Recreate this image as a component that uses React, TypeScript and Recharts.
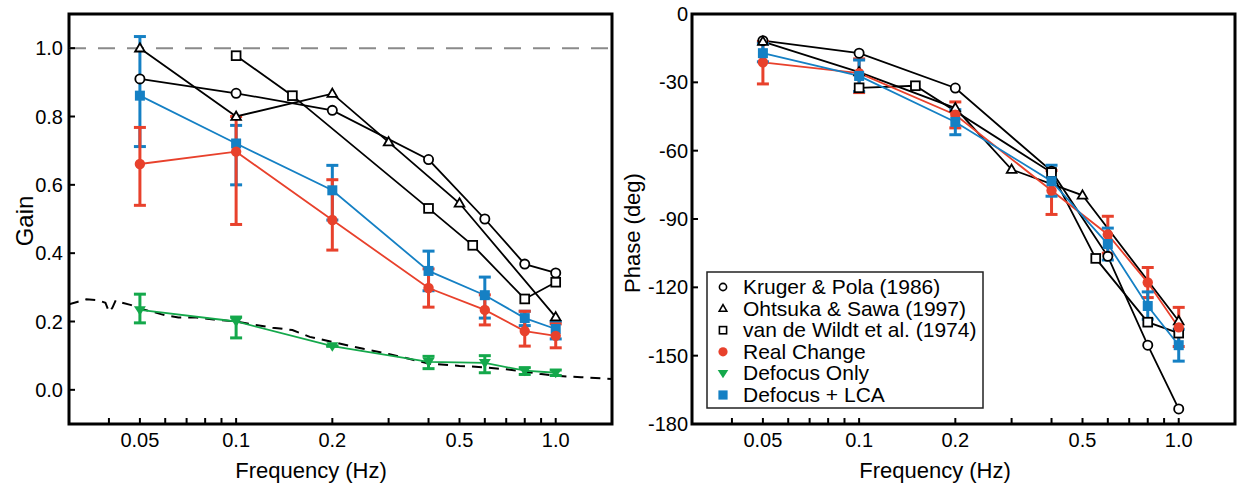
import React from 'react';
import { LineChart, Line, XAxis, YAxis, ErrorBar, ReferenceLine, ReferenceArea } from 'recharts';

const FONT = '"Liberation Sans", Arial, Helvetica, sans-serif';
const RED = '#E8412C';
const BLUE = '#1580C4';
const GREEN = '#14A84B';

// ---------- frequencies (Hz) ----------
const studyFreq = [0.05, 0.1, 0.2, 0.4, 0.6, 0.8, 1.0];
const krugerFreq = [0.05, 0.1, 0.2, 0.4, 0.6, 0.8, 1.0];
const ohtsukaFreq = [0.05, 0.1, 0.2, 0.3, 0.5, 1.0];
const wildtFreq = [0.1, 0.15, 0.4, 0.55, 0.8, 1.0];

// ---------- gain ----------
const krugerGain = [0.91, 0.868, 0.818, 0.674, 0.5, 0.368, 0.342];
const ohtsukaGain = [1.0, 0.8, 0.867, 0.725, 0.546, 0.213];
const wildtGain = [0.978, 0.861, 0.531, 0.423, 0.266, 0.315];

const realGain = [0.661, 0.697, 0.497, 0.298, 0.234, 0.172, 0.158];
const realGainLo = [0.54, 0.484, 0.409, 0.242, 0.19, 0.128, 0.123];
const realGainHi = [0.768, 0.8, 0.615, 0.354, 0.278, 0.23, 0.193];

const lcaGain = [0.861, 0.721, 0.584, 0.348, 0.277, 0.21, 0.178];
const lcaGainLo = [0.712, 0.6, 0.497, 0.29, 0.21, 0.188, 0.149];
const lcaGainHi = [1.034, 0.774, 0.657, 0.406, 0.33, 0.23, 0.2];

const defocusGain = [0.234, 0.2, 0.128, 0.082, 0.079, 0.056, 0.05];
const defocusGainLo = [0.196, 0.152, 0.128, 0.062, 0.05, 0.045, 0.042];
const defocusGainHi = [0.28, 0.213, 0.128, 0.098, 0.1, 0.065, 0.058];

// model (dashed) curve
const modelFreq = [0.03, 0.032, 0.034, 0.037, 0.039, 0.04, 0.041, 0.042, 0.044, 0.047, 0.05, 0.055, 0.06, 0.066, 0.075, 0.085, 0.1, 0.115, 0.13, 0.15, 0.17, 0.2, 0.25, 0.3, 0.35, 0.4, 0.5, 0.6, 0.7, 0.8, 0.9, 1.0, 1.2, 1.5];
const modelGain = [0.25, 0.258, 0.265, 0.262, 0.255, 0.228, 0.24, 0.262, 0.255, 0.248, 0.238, 0.228, 0.218, 0.212, 0.212, 0.206, 0.2, 0.19, 0.182, 0.175, 0.155, 0.14, 0.12, 0.105, 0.09, 0.077, 0.07, 0.066, 0.06, 0.053, 0.046, 0.041, 0.037, 0.032];

// ---------- phase (deg) ----------
const krugerPhase = [-11.7, -17.2, -32.5, -69, -106.4, -145.4, -173.4];
const ohtsukaPhase = [-12.1, -25.5, -41.3, -68.3, -79.6, -134.8];
const wildtPhase = [-32.4, -31.5, -69.6, -107.3, -135.3, -140.1];

const realPhase = [-21.2, -26, -44.2, -77.5, -96.8, -117.9, -137.6];
const realPhaseLo = [-30.7, -34.5, -50, -88, -105, -124.5, -146];
const realPhaseHi = [-12, -19.7, -38.6, -68.7, -88.8, -111.3, -128.8];

const lcaPhase = [-17.2, -27.2, -47.4, -73.4, -101, -128.2, -145.4];
const lcaPhaseLo = [-21, -34, -53, -80, -108, -134, -152.4];
const lcaPhaseHi = [-13, -20.2, -42, -66.4, -94, -122, -138.4];

// ---------- axes ----------
const freqTicks = [0.04, 0.05, 0.06, 0.07, 0.08, 0.09, 0.1, 0.2, 0.3, 0.4, 0.5, 0.6, 0.7, 0.8, 0.9, 1.0];
const freqLabels: Record<string, string> = { '0.05': '0.05', '0.1': '0.1', '0.2': '0.2', '0.5': '0.5', '1': '1.0' };
const gainTicks = [0, 0.2, 0.4, 0.6, 0.8, 1.0];
const phaseTicks = [-180, -150, -120, -90, -60, -30, 0];
const freqDomain = [0.03, 1.5];
const gainDomain = [-0.1, 1.1];
const phaseDomain = [-180, 0];

const legendItems = [
  { label: 'Kruger & Pola (1986)', kind: 'circle', color: '#000', open: true },
  { label: 'Ohtsuka & Sawa (1997)', kind: 'tri', color: '#000', open: true },
  { label: 'van de Wildt et al. (1974)', kind: 'square', color: '#000', open: true },
  { label: 'Real Change', kind: 'circle', color: RED, open: false },
  { label: 'Defocus Only', kind: 'down', color: GREEN, open: false },
  { label: 'Defocus + LCA', kind: 'square', color: BLUE, open: false },
];

const toPts = (fs: number[], vs: number[]) => fs.map((f, i) => ({ f, v: vs[i] }));
const toErrPts = (fs: number[], vs: number[], lo: number[], hi: number[]) =>
  fs.map((f, i) => ({ f, v: vs[i], err: [vs[i] - lo[i], hi[i] - vs[i]] }));

function shape(kind: string, cx: number, cy: number, s: number, fill: string, stroke: string, sw: number, key?: string) {
  if (kind === 'circle') return <circle key={key} cx={cx} cy={cy} r={s} fill={fill} stroke={stroke} strokeWidth={sw} />;
  if (kind === 'square')
    return <rect key={key} x={cx - s} y={cy - s} width={2 * s} height={2 * s} fill={fill} stroke={stroke} strokeWidth={sw} />;
  if (kind === 'tri') {
    const h = s * 1.8;
    return (
      <path key={key} d={`M${cx},${cy - h * 0.6} L${cx + s * 1.05},${cy + h * 0.4} L${cx - s * 1.05},${cy + h * 0.4} Z`} fill={fill} stroke={stroke} strokeWidth={sw} />
    );
  }
  const h = s * 1.8;
  return <path key={key} d={`M${cx},${cy + h * 0.6} L${cx + s * 1.15},${cy - h * 0.4} L${cx - s * 1.15},${cy - h * 0.4} Z`} fill={fill} stroke={stroke} strokeWidth={sw} />;
}

const makeDot = (kind: string, s: number, fill: string, stroke: string, sw: number) => (p: any) => {
  const k = `d-${p.index}`;
  if (p.cx == null || p.cy == null) return <g key={k} />;
  return shape(kind, p.cx, p.cy, s, fill, stroke, sw, k);
};

const tickStyle = { fill: '#000', fontSize: 20, fontFamily: FONT };
const fmtFreq = (v: number) => freqLabels[String(Math.round(v * 100) / 100)] ?? '';

const blackLine = (key: string, data: any[], kind: string, s: number) => (
  <Line
    key={key}
    data={data}
    dataKey="v"
    type="linear"
    stroke="#000"
    strokeWidth={1.8}
    dot={makeDot(kind, s, '#fff', '#000', 1.8)}
    activeDot={false}
    isAnimationActive={false}
    legendType="none"
  />
);

const colorLine = (key: string, data: any[], color: string, kind: string, s: number) => (
  <Line
    key={key}
    data={data}
    dataKey="v"
    type="linear"
    stroke={color}
    strokeWidth={1.8}
    dot={makeDot(kind, s, color, color, 0)}
    activeDot={false}
    isAnimationActive={false}
    legendType="none"
  >
    <ErrorBar dataKey="err" direction="y" width={6} strokeWidth={3} stroke={color} />
  </Line>
);

function xAxis() {
  return (
    <XAxis
      dataKey="f"
      type="number"
      scale="log"
      domain={freqDomain}
      allowDataOverflow
      ticks={freqTicks}
      interval={0}
      tickFormatter={fmtFreq}
      tick={tickStyle}
      tickSize={-6}
      tickMargin={15}
      tickLine={{ stroke: '#000', strokeWidth: 2 }}
      axisLine={false}
      height={61}
    />
  );
}

export default function App() {
  return (
    <div style={{ position: 'absolute', left: 0, top: 0, width: 1239, height: 485, background: '#fff', fontFamily: FONT }}>
      <div style={{ position: 'absolute', left: 0, top: 0 }}>
        <LineChart width={620} height={485} margin={{ top: 14, right: 8, bottom: 0, left: 0 }}>
          {xAxis()}
          <YAxis
            type="number"
            domain={gainDomain}
            allowDataOverflow
            ticks={gainTicks}
            interval={0}
            tickFormatter={(v: number) => v.toFixed(1)}
            tick={tickStyle}
            tickSize={-6}
            tickMargin={12}
            tickLine={{ stroke: '#000', strokeWidth: 2 }}
            axisLine={false}
            width={69}
          />
          <ReferenceLine y={1} stroke="#8a8a8a" strokeWidth={2} strokeDasharray="17 12" />
          <Line
            data={toPts(modelFreq, modelGain)}
            dataKey="v"
            type="linear"
            stroke="#000"
            strokeWidth={2}
            strokeDasharray="10 7"
            dot={false}
            activeDot={false}
            isAnimationActive={false}
            legendType="none"
          />
          {colorLine('lca', toErrPts(studyFreq, lcaGain, lcaGainLo, lcaGainHi), BLUE, 'square', 5)}
          {colorLine('real', toErrPts(studyFreq, realGain, realGainLo, realGainHi), RED, 'circle', 5.2)}
          {colorLine('defocus', toErrPts(studyFreq, defocusGain, defocusGainLo, defocusGainHi), GREEN, 'down', 5.2)}
          {blackLine('kruger', toPts(krugerFreq, krugerGain), 'circle', 4.6)}
          {blackLine('ohtsuka', toPts(ohtsukaFreq, ohtsukaGain), 'tri', 4.6)}
          {blackLine('wildt', toPts(wildtFreq, wildtGain), 'square', 4.4)}
          <ReferenceArea x1={freqDomain[0]} x2={freqDomain[1]} y1={gainDomain[0]} y2={gainDomain[1]} fill="none" stroke="#000" strokeWidth={3} ifOverflow="visible" />
        </LineChart>
      </div>
      <div style={{ position: 'absolute', left: 620, top: 0 }}>
        <LineChart width={619} height={485} margin={{ top: 14, right: 4, bottom: 0, left: 0 }}>
          {xAxis()}
          <YAxis
            type="number"
            domain={phaseDomain}
            allowDataOverflow
            ticks={phaseTicks}
            interval={0}
            tick={tickStyle}
            tickSize={-6}
            tickMargin={10}
            tickLine={{ stroke: '#000', strokeWidth: 2 }}
            axisLine={false}
            width={72}
          />
          {blackLine('kruger', toPts(krugerFreq, krugerPhase), 'circle', 4.6)}
          {blackLine('ohtsuka', toPts(ohtsukaFreq, ohtsukaPhase), 'tri', 4.6)}
          {blackLine('wildt', toPts(wildtFreq, wildtPhase), 'square', 4.4)}
          {colorLine('real', toErrPts(studyFreq, realPhase, realPhaseLo, realPhaseHi), RED, 'circle', 5.2)}
          {colorLine('lca', toErrPts(studyFreq, lcaPhase, lcaPhaseLo, lcaPhaseHi), BLUE, 'square', 5)}
          <ReferenceArea x1={freqDomain[0]} x2={freqDomain[1]} y1={phaseDomain[0]} y2={phaseDomain[1]} fill="none" stroke="#000" strokeWidth={3} ifOverflow="visible" />
        </LineChart>
      </div>
      <svg width={1239} height={485} style={{ position: 'absolute', left: 0, top: 0, pointerEvents: 'none' }}>
        <text x={33} y={221} transform="rotate(-90 33 221)" textAnchor="middle" fontSize={24} fontFamily={FONT} fill="#000">Gain</text>
        <text x={640} y={233} transform="rotate(-90 640 233)" textAnchor="middle" fontSize={22} fontFamily={FONT} fill="#000">Phase (deg)</text>
        <text x={311} y={478} textAnchor="middle" fontSize={22} fontFamily={FONT} fill="#000">Frequency (Hz)</text>
        <text x={935} y={478} textAnchor="middle" fontSize={22} fontFamily={FONT} fill="#000">Frequency (Hz)</text>
        <rect x={707} y={272} width={276} height={136} fill="#fff" stroke="#222" strokeWidth={1.5} />
        {legendItems.map((it, i) => {
          const base = 294 + i * 21.6;
          const cy = base - 7;
          const s = it.open ? 3.6 : 4.6;
          return (
            <g key={it.label}>
              {shape(it.kind, 723, cy, s, it.open ? '#fff' : it.color, it.open ? '#000' : it.color, it.open ? 1.6 : 0)}
              <text x={743} y={base} fontSize={21} fontFamily={FONT} fill="#000">{it.label}</text>
            </g>
          );
        })}
      </svg>
    </div>
  );
}
